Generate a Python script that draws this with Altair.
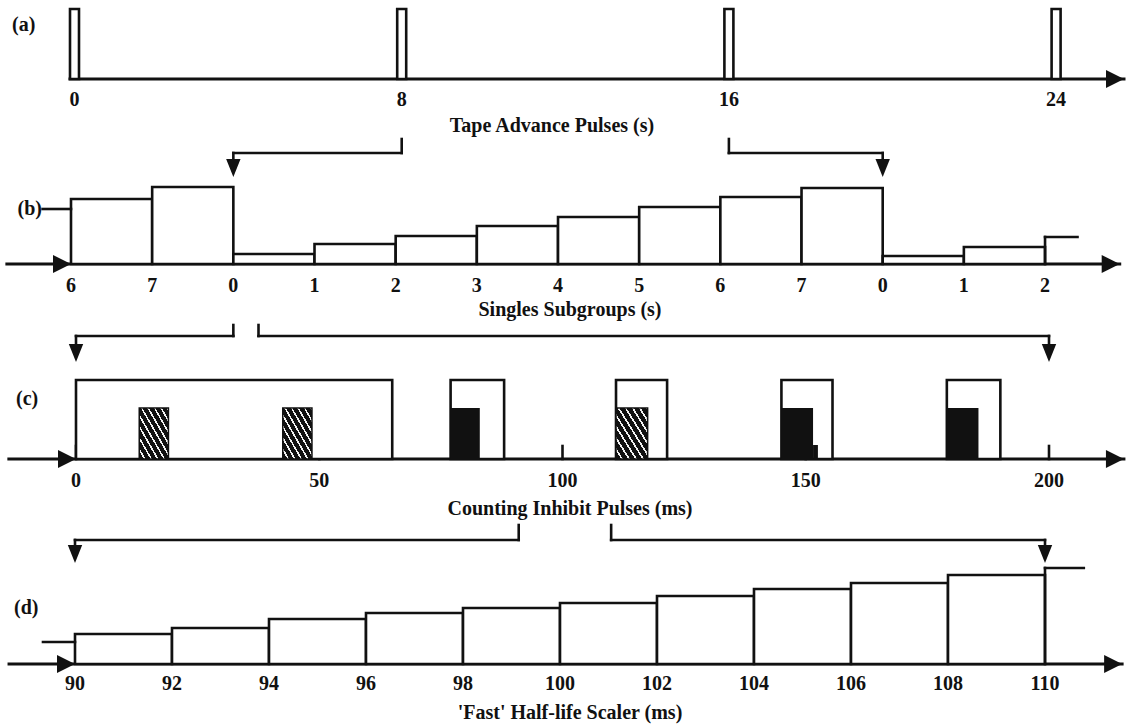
import altair as alt
import pandas as pd

W = 1127
FONT = "Liberation Serif"
INK = "#111111"
LW = 2.6
FS = 20

# ---------------- data ----------------
# (a) tape advance pulses (s)
tape_pulses_s = [0, 8, 16, 24]
tape_pulse_width_s = 0.22
tape_pulse_level = 70
tape_axis_end_s = 25.66

# (b) singles subgroups
subgroup_slots = list(range(13))
subgroup_labels = ["6", "7", "0", "1", "2", "3", "4", "5", "6", "7", "0", "1", "2"]
subgroup_counts = [65, 77, 10, 20, 28, 38, 47, 57, 67, 76, 8, 17]
subgroup_partial = [12, 12.4, 27]      # start slot, end slot, count
subgroup_lead = [-0.35, 0, 55]          # start slot, end slot, count
subgroup_axis = [-0.79, 12.92]

# (c) counting inhibit pulses (ms)
inhibit_start = [0, 77, 111, 145, 179]
inhibit_end = [65, 88, 121.5, 155.5, 190]
inhibit_level = 79
hatched_start = [13, 42.5, 111]
hatched_end = [19, 48.5, 117.5]
solid_start = [77, 145, 179]
solid_end = [83, 151.5, 185.5]
count_level = 51
tail_pulse = [151.5, 152.5, 14]
c_ticks = [0, 50, 100, 150, 200]
c_tick_len = 13
c_axis = [-13.8, 215.4]

# (d) 'fast' half-life scaler (ms)
scaler_edges = [90, 92, 94, 96, 98, 100, 102, 104, 106, 108, 110]
scaler_counts = [30, 36, 45, 51, 56, 61, 68, 75, 81, 89]
scaler_partial = [110, 110.8, 96]
scaler_lead = [89.34, 90, 22]
d_axis = [88.64, 111.59]

# connectors between panels (upper-panel value -> lower-panel value)
ab_source_s = [8, 16]
ab_target_slot = [2, 10]
bc_source_slot = [2.0, 2.31]
bc_target_ms = [0, 200]
cd_source_ms = [91, 110]
cd_target_ms = [90, 110]

titles = {
    "a": "Tape Advance Pulses (s)",
    "b": "Singles Subgroups (s)",
    "c": "Counting Inhibit Pulses (ms)",
    "d": "'Fast' Half-life Scaler (ms)",
}

# ---------------- layout ----------------
MAP = {"a": (0, 74.5, 40.9), "b": (0, 71.0, 81.17), "c": (0, 76.0, 4.865), "d": (90, 75.0, 48.5)}
H = {"a": 138, "b": 184, "c": 199, "d": 203}
BASE = {"a": 79, "b": 126, "c": 137, "d": 143}
TICK_Y = {"a": 106, "b": 154, "c": 165, "d": 169}
TITLE_Y = {"a": 132, "b": 178, "c": 193, "d": 198}
TITLE_X = {"a": 552, "b": 570, "c": 570, "d": 570}
PLAB = {"a": (12, 31, "left"), "b": (42, 77, "right"), "c": (16, 83, "left"), "d": (14, 93, "left")}
CONN = {"b": (1, 15, 39), "c": (3, 14, 40), "d": (4, 19, 42)}

RIGHT = "M-1,-0.5L0,0L-1,0.5Z"
DOWN = "M-0.4,-1L0,0L0.4,-1Z"
HEAD = 1296


def to_px(p, v):
    v0, px0, k = MAP[p]
    return px0 + (v - v0) * k


def from_px(p, px):
    v0, px0, k = MAP[p]
    return v0 + (px - px0) / k


def convert(pu, pl, v):
    return from_px(pl, to_px(pu, v))


def xs(p):
    return alt.Scale(domain=[from_px(p, 0), from_px(p, W)], nice=False, zero=False)


def ys(p):
    return alt.Scale(domain=[BASE[p] - H[p], BASE[p]], nice=False, zero=False)


def X(p, f):
    return alt.X(f, type="quantitative", scale=xs(p), axis=None)


def Y(p, f):
    return alt.Y(f, type="quantitative", scale=ys(p), axis=None)


def rects(p, x0, x1, y0, y1, fill, stroke=True, sw=LW):
    df = pd.DataFrame({"x0": x0, "x1": x1, "y0": y0, "y1": y1})
    kw = dict(fill=fill)
    if stroke:
        kw.update(stroke=INK, strokeWidth=sw)
    else:
        kw.update(strokeWidth=0)
    return alt.Chart(df).mark_rect(**kw).encode(
        x=X(p, "x0"), x2="x1", y=Y(p, "y0"), y2="y1")


def hrules(p, x0, x1, y, sw=LW):
    df = pd.DataFrame({"x0": x0, "x1": x1, "y": y})
    return alt.Chart(df).mark_rule(color=INK, strokeWidth=sw, strokeCap="square").encode(
        x=X(p, "x0"), x2="x1", y=Y(p, "y"))


def vrules(p, x, y0, y1, sw=LW):
    df = pd.DataFrame({"x": x, "y0": y0, "y1": y1})
    return alt.Chart(df).mark_rule(color=INK, strokeWidth=sw, strokeCap="square").encode(
        x=X(p, "x"), y=Y(p, "y0"), y2="y1")


def right_arrows(p, x):
    df = pd.DataFrame({"x": x, "y": [0] * len(x)})
    return alt.Chart(df).mark_point(shape=RIGHT, size=HEAD, filled=True, color=INK,
                                    opacity=1, strokeWidth=0).encode(x=X(p, "x"), y=Y(p, "y"))


def tick_labels(p, vals, labels):
    df = pd.DataFrame({"v": vals, "t": [str(s) for s in labels]})
    return alt.Chart(df).mark_text(font=FONT, fontSize=FS, fontWeight="bold", baseline="alphabetic",
                                   align="center", color=INK).encode(
        x=X(p, "v"), y=alt.value(TICK_Y[p]), text="t:N")


def text_at(x, y, s, align="center"):
    df = pd.DataFrame({"t": [s]})
    return alt.Chart(df).mark_text(font=FONT, fontSize=FS, fontWeight="bold", baseline="alphabetic",
                                   align=align, color=INK).encode(
        x=alt.value(x), y=alt.value(y), text="t:N")


def decorations(p):
    lx, ly, la = PLAB[p]
    return [text_at(TITLE_X[p], TITLE_Y[p], titles[p]), text_at(lx, ly, "(" + p + ")", la)]


def connectors(pu, p, src_upper, tgt):
    top, elbow, tip = CONN[p]
    src = [convert(pu, p, v) for v in src_upper]
    df = pd.DataFrame({"src": src, "tgt": tgt})
    base = alt.Chart(df)
    rk = dict(color=INK, strokeWidth=LW, strokeCap="square")
    return [
        base.mark_rule(**rk).encode(x=X(p, "src"), y=alt.value(top), y2=alt.value(elbow)),
        base.mark_rule(**rk).encode(x=X(p, "src"), x2="tgt", y=alt.value(elbow)),
        base.mark_rule(**rk).encode(x=X(p, "tgt"), y=alt.value(elbow), y2=alt.value(tip - 16)),
        base.mark_point(shape=DOWN, size=HEAD, filled=True, color=INK, opacity=1,
                        strokeWidth=0).encode(x=X(p, "tgt"), y=alt.value(tip)),
    ]


# hatch fill (dark with thin light diagonal lines)
stops = []
N = 9
for i in range(N):
    a0, b0, c0 = i / N, (i + 0.72) / N, (i + 1) / N
    stops += [{"offset": a0, "color": INK}, {"offset": b0, "color": INK},
              {"offset": b0, "color": "#f2f2f2"}, {"offset": c0, "color": "#f2f2f2"}]
HATCH = {"gradient": "linear", "x1": 0, "y1": 1, "x2": 1, "y2": 0, "stops": stops}

# ---------------- panel (a) ----------------
half = tape_pulse_width_s / 2
pa_layers = [
    hrules("a", [tape_pulses_s[0] - half], [tape_axis_end_s], [0], sw=3),
    right_arrows("a", [tape_axis_end_s]),
    rects("a", [s - half for s in tape_pulses_s], [s + half for s in tape_pulses_s],
          [0] * 4, [tape_pulse_level] * 4, "white"),
    tick_labels("a", tape_pulses_s, tape_pulses_s),
] + decorations("a")
pa = alt.layer(*pa_layers).properties(width=W, height=H["a"])

# ---------------- panel (b) ----------------
nb = len(subgroup_counts)
pb_layers = [
    hrules("b", [subgroup_axis[0]], [subgroup_axis[1]], [0], sw=3),
    rects("b", subgroup_slots[:nb], subgroup_slots[1:nb + 1], [0] * nb, subgroup_counts, "white"),
    vrules("b", [subgroup_partial[0]], [0], [subgroup_partial[2]]),
    hrules("b", [subgroup_partial[0]], [subgroup_partial[1]], [subgroup_partial[2]]),
    hrules("b", [subgroup_lead[0]], [subgroup_lead[1]], [subgroup_lead[2]]),
    right_arrows("b", [0, subgroup_axis[1]]),
    tick_labels("b", subgroup_slots, subgroup_labels),
] + connectors("a", "b", ab_source_s, ab_target_slot) + decorations("b")
pb = alt.layer(*pb_layers).properties(width=W, height=H["b"])

# ---------------- panel (c) ----------------
ni, nh, ns = len(inhibit_start), len(hatched_start), len(solid_start)
pc_layers = [
    hrules("c", [c_axis[0]], [c_axis[1]], [0], sw=3),
    vrules("c", c_ticks, [0] * len(c_ticks), [c_tick_len] * len(c_ticks)),
    rects("c", inhibit_start, inhibit_end, [0] * ni, [inhibit_level] * ni, "white"),
    rects("c", hatched_start, hatched_end, [0] * nh, [count_level] * nh, HATCH, sw=1.5),
    rects("c", solid_start, solid_end, [0] * ns, [count_level] * ns, INK, stroke=False),
    rects("c", [tail_pulse[0]], [tail_pulse[1]], [0], [tail_pulse[2]], INK, stroke=False),
    right_arrows("c", [0, c_axis[1]]),
    tick_labels("c", c_ticks, c_ticks),
] + connectors("b", "c", bc_source_slot, bc_target_ms) + decorations("c")
pc = alt.layer(*pc_layers).properties(width=W, height=H["c"])

# ---------------- panel (d) ----------------
nd = len(scaler_counts)
pd_layers = [
    hrules("d", [d_axis[0]], [d_axis[1]], [0], sw=3),
    rects("d", scaler_edges[:nd], scaler_edges[1:nd + 1], [0] * nd, scaler_counts, "white"),
    vrules("d", [scaler_partial[0]], [0], [scaler_partial[2]]),
    hrules("d", [scaler_partial[0]], [scaler_partial[1]], [scaler_partial[2]]),
    hrules("d", [scaler_lead[0]], [scaler_lead[1]], [scaler_lead[2]]),
    right_arrows("d", [scaler_edges[0], d_axis[1]]),
    tick_labels("d", scaler_edges, scaler_edges),
] + connectors("c", "d", cd_source_ms, cd_target_ms) + decorations("d")
pdn = alt.layer(*pd_layers).properties(width=W, height=H["d"])

chart = alt.vconcat(pa, pb, pc, pdn, spacing=0, bounds="flush").properties(
    padding=0, background="white"
).configure_view(stroke=None)

chart.save("out.html", embed_options={"renderer": "svg", "actions": False})
